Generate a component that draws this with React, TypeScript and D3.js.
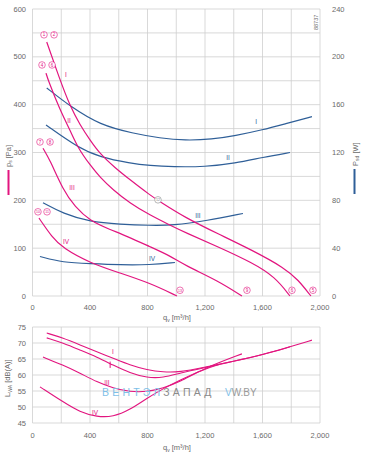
import React from "react";
import * as d3 from "d3";

// ---- data ----
const xTicks = [0, 400, 800, 1200, 1600, 2000];
const xGrid = [0, 200, 400, 600, 800, 1000, 1200, 1400, 1600, 1800, 2000];
const pTicks = [0, 100, 200, 300, 400, 500, 600];
const pGrid = [0, 50, 100, 150, 200, 250, 300, 350, 400, 450, 500, 550, 600];
const wTicks = [0, 40, 80, 120, 160, 200, 240];
const lTicks = [45, 50, 55, 60, 65, 70, 75];

type Pt = [number, number];

const pressureI: Pt[] = [[99,531],[191,452],[261,397],[330,358],[400,326],[470,297],[574,268],[678,243],[817,211],[887,197],[1061,164],[1290,130],[1527,96],[1757,58],[1847,34],[1937,0]];
const pressureII: Pt[] = [[94,466],[108,452],[191,389],[261,347],[317,309],[400,274],[470,248],[560,222],[678,194],[817,169],[957,148],[1061,133],[1290,103],[1527,70],[1687,40],[1791,0]];
const pressureIII: Pt[] = [[73,309],[122,284],[212,222],[296,186],[400,157],[539,139],[657,125],[817,103],[957,84],[1061,64],[1290,32],[1457,0]];
const pressureIV: Pt[] = [[45,163],[136,123],[212,100],[400,69],[609,48],[817,27],[1005,0]];

const powerI: Pt[] = [[99,174],[268,158],[470,143],[699,136],[887,132],[1061,130],[1249,131],[1409,134],[1604,139],[1757,144],[1944,150]];
const powerII: Pt[] = [[94,143],[317,124],[470,116],[678,111],[817,109],[977,108],[1200,108],[1409,111],[1604,116],[1791,120]];
const powerIII: Pt[] = [[73,78],[212,69],[400,62],[609,60],[817,59],[977,59],[1214,63],[1464,69]];
const powerIV: Pt[] = [[52,33],[212,28],[400,27],[609,26],[817,26],[991,28]];

const soundI: Pt[] = [[99,73.1],[212,71.6],[330,69.4],[449,67.2],[560,65.3],[678,63.1],[797,61.6],[908,60.9],[1026,60.9],[1186,62.3],[1400,64.3],[1600,66.3],[1800,68.9],[1944,70.9]];
const soundII: Pt[] = [[99,71.6],[212,70.0],[330,67.8],[449,65.6],[560,63.1],[678,60.6],[797,59.1],[908,59.1],[1026,60.6],[1186,62.2],[1400,64.3],[1600,66.3],[1791,68.8]];
const soundIII: Pt[] = [[73,65.6],[212,63.1],[330,60.6],[449,57.8],[560,55.9],[678,54.7],[797,54.7],[908,55.9],[1026,57.8],[1186,62.0],[1457,66.6]];
const soundIV: Pt[] = [[52,56.3],[212,51.6],[330,48.4],[449,46.9],[560,46.9],[678,49.1],[797,52.8],[908,55.7],[1026,58.4],[1186,61.7],[1300,63.3]];

const pressureSeries = [pressureI, pressureII, pressureIII, pressureIV];
const powerSeries = [powerI, powerII, powerIII, powerIV];
const soundSeries = [soundI, soundII, soundIII, soundIV];

// circled operating-point markers [label, q, P, grey?]
const circleMarks: [string, number, number, boolean][] = [
  ["1", 80, 546, false], ["2", 150, 546, false],
  ["4", 66, 483, false], ["6", 136, 483, false],
  ["7", 52, 322, false], ["8", 122, 322, false],
  ["10", 38, 176, false], ["11", 101, 176, false],
  ["12", 873, 201, true],
  ["13", 1026, 12, false], ["9", 1492, 12, false], ["6", 1805, 12, false], ["5", 1951, 12, false],
];
const pressureLabels: [string, number, number][] = [["I", 233, 462], ["II", 254, 366], ["III", 275, 226], ["IV", 233, 113]];
const powerLabels: [string, number, number][] = [["I", 1555, 146], ["II", 1360, 116], ["III", 1151, 67], ["IV", 831, 31]];
const soundLabels: [string, number, number][] = [["I", 560, 67.2], ["III", 518, 57.5], ["IV", 435, 48.1]];

const PINK = "#e2157f";
const BLUE = "#2f5f98";
const GRID = "#cfcfcf";
const TXT = "#6a6a6a";
const FONT = "Liberation Sans, Arial, sans-serif";

export default function App() {
  const x = d3.scaleLinear().domain([0, 2000]).range([32.5, 320]);
  const yP = d3.scaleLinear().domain([0, 600]).range([296, 9]);
  const yW = d3.scaleLinear().domain([0, 240]).range([296, 9]);
  const yL = d3.scaleLinear().domain([45, 75]).range([423, 327]);
  const fmt = d3.format(",");

  const lineP = d3.line<Pt>().x(d => x(d[0])).y(d => yP(d[1])).curve(d3.curveBasis);
  const lineW = d3.line<Pt>().x(d => x(d[0])).y(d => yW(d[1])).curve(d3.curveBasis);
  const lineL = d3.line<Pt>().x(d => x(d[0])).y(d => yL(d[1])).curve(d3.curveBasis);

  const tickStyle = { fontFamily: FONT, fontSize: 7.5, fill: TXT } as const;

  return (
    <svg width={369} height={455} style={{ position: "absolute", left: 0, top: 0, background: "#fff" }}>
      {/* top chart grid */}
      <g stroke={GRID} strokeWidth={0.8}>
        {xGrid.map(v => <line key={"tx" + v} x1={x(v)} x2={x(v)} y1={yP(600)} y2={yP(0)} />)}
        {pGrid.map(v => <line key={"ty" + v} x1={x(0)} x2={x(2000)} y1={yP(v)} y2={yP(v)} />)}
      </g>
      {/* bottom chart grid */}
      <g stroke={GRID} strokeWidth={0.8}>
        {xGrid.map(v => <line key={"bx" + v} x1={x(v)} x2={x(v)} y1={yL(75)} y2={yL(45)} />)}
        {lTicks.map(v => <line key={"by" + v} x1={x(0)} x2={x(2000)} y1={yL(v)} y2={yL(v)} />)}
      </g>

      {/* tick labels top */}
      {pTicks.map(v => <text key={"pl" + v} x={26} y={yP(v)} dy="0.35em" textAnchor="end" {...tickStyle}>{v}</text>)}
      {wTicks.map(v => <text key={"wl" + v} x={332} y={yW(v)} dy="0.35em" textAnchor="start" {...tickStyle}>{v}</text>)}
      {xTicks.map(v => <text key={"xl" + v} x={x(v)} y={309.5} textAnchor="middle" {...tickStyle}>{fmt(v)}</text>)}
      <text x={163} y={320} {...tickStyle}>q<tspan fontSize={5} dy={1.5}>v</tspan><tspan dy={-1.5}> [m³/h]</tspan></text>

      {/* tick labels bottom */}
      {lTicks.map(v => <text key={"ll" + v} x={26} y={yL(v)} dy="0.35em" textAnchor="end" {...tickStyle}>{v}</text>)}
      {xTicks.map(v => <text key={"bxl" + v} x={x(v)} y={438} textAnchor="middle" {...tickStyle}>{fmt(v)}</text>)}
      <text x={163} y={450} {...tickStyle}>q<tspan fontSize={5} dy={1.5}>v</tspan><tspan dy={-1.5}> [m³/h]</tspan></text>

      {/* axis titles */}
      <text transform="translate(10.5,167) rotate(-90)" {...tickStyle}>p<tspan fontSize={5} dy={1.5}>s</tspan><tspan dy={-1.5}> [Pa]</tspan></text>
      <line x1={8.5} x2={8.5} y1={170} y2={195} stroke={PINK} strokeWidth={2} />
      <text transform="translate(357.5,166) rotate(-90)" {...tickStyle}>P<tspan fontSize={5} dy={1.5}>sd</tspan><tspan dy={-1.5}> [W]</tspan></text>
      <line x1={354.5} x2={354.5} y1={169} y2={194} stroke={BLUE} strokeWidth={2} />
      <text transform="translate(10,397) rotate(-90)" {...tickStyle}>L<tspan fontSize={5} dy={1.5}>WA</tspan><tspan dy={-1.5}> [dB(A)]</tspan></text>
      <text transform="translate(318,30) rotate(-90)" fontFamily={FONT} fontSize={5.5} fill={TXT}>88737</text>

      {/* power curves */}
      {powerSeries.map((s, i) => <path key={"pw" + i} d={lineW(s) || ""} fill="none" stroke={BLUE} strokeWidth={1.2} />)}
      {/* pressure curves */}
      {pressureSeries.map((s, i) => <path key={"pr" + i} d={lineP(s) || ""} fill="none" stroke={PINK} strokeWidth={1.2} />)}
      {/* sound curves */}
      {soundSeries.map((s, i) => <path key={"sd" + i} d={lineL(s) || ""} fill="none" stroke={PINK} strokeWidth={1.1} />)}

      {/* labels */}
      {pressureLabels.map(([t, q, p], i) => <text key={"pll" + i} x={x(q)} y={yP(p)} dy="0.35em" textAnchor="middle" fontFamily={FONT} fontSize={6.5} fill={PINK}>{t}</text>)}
      {powerLabels.map(([t, q, w], i) => <text key={"pwl" + i} x={x(q)} y={yW(w)} dy="0.35em" textAnchor="middle" fontFamily={FONT} fontSize={6.5} fill={BLUE}>{t}</text>)}
      {soundLabels.map(([t, q, l], i) => <text key={"sl" + i} x={x(q)} y={yL(l)} dy="0.35em" textAnchor="middle" fontFamily={FONT} fontSize={6.5} fill={PINK}>{t}</text>)}
      <line x1={x(540)} x2={x(540)} y1={yL(64.2)} y2={yL(62.2)} stroke={PINK} strokeWidth={1} />

      {circleMarks.map(([t, q, p, g], i) => (
        <g key={"cm" + i} transform={`translate(${x(q)},${yP(p)})`}>
          <circle r={3.3} fill="#fff" stroke={g ? "#888" : PINK} strokeWidth={0.6} />
          <text dy="0.35em" textAnchor="middle" fontFamily={FONT} fontSize={t.length > 1 ? 3.6 : 4.5} fill={g ? "#777" : PINK}>{t}</text>
        </g>
      ))}

      {/* watermark */}
      <text x={102} y={396} fontFamily={FONT} fontSize={10.5} letterSpacing={3.2}>
        <tspan fill="#7fbfe8">ВЕНТЭЛ</tspan><tspan fill="#8a8a8a">ЗАПАД</tspan>
      </text>
      <text x={225} y={396} fontFamily={FONT} fontSize={10}>
        <tspan fill="#7fbfe8">V</tspan><tspan fill="#9a9a9a">W.BY</tspan>
      </text>
    </svg>
  );
}
